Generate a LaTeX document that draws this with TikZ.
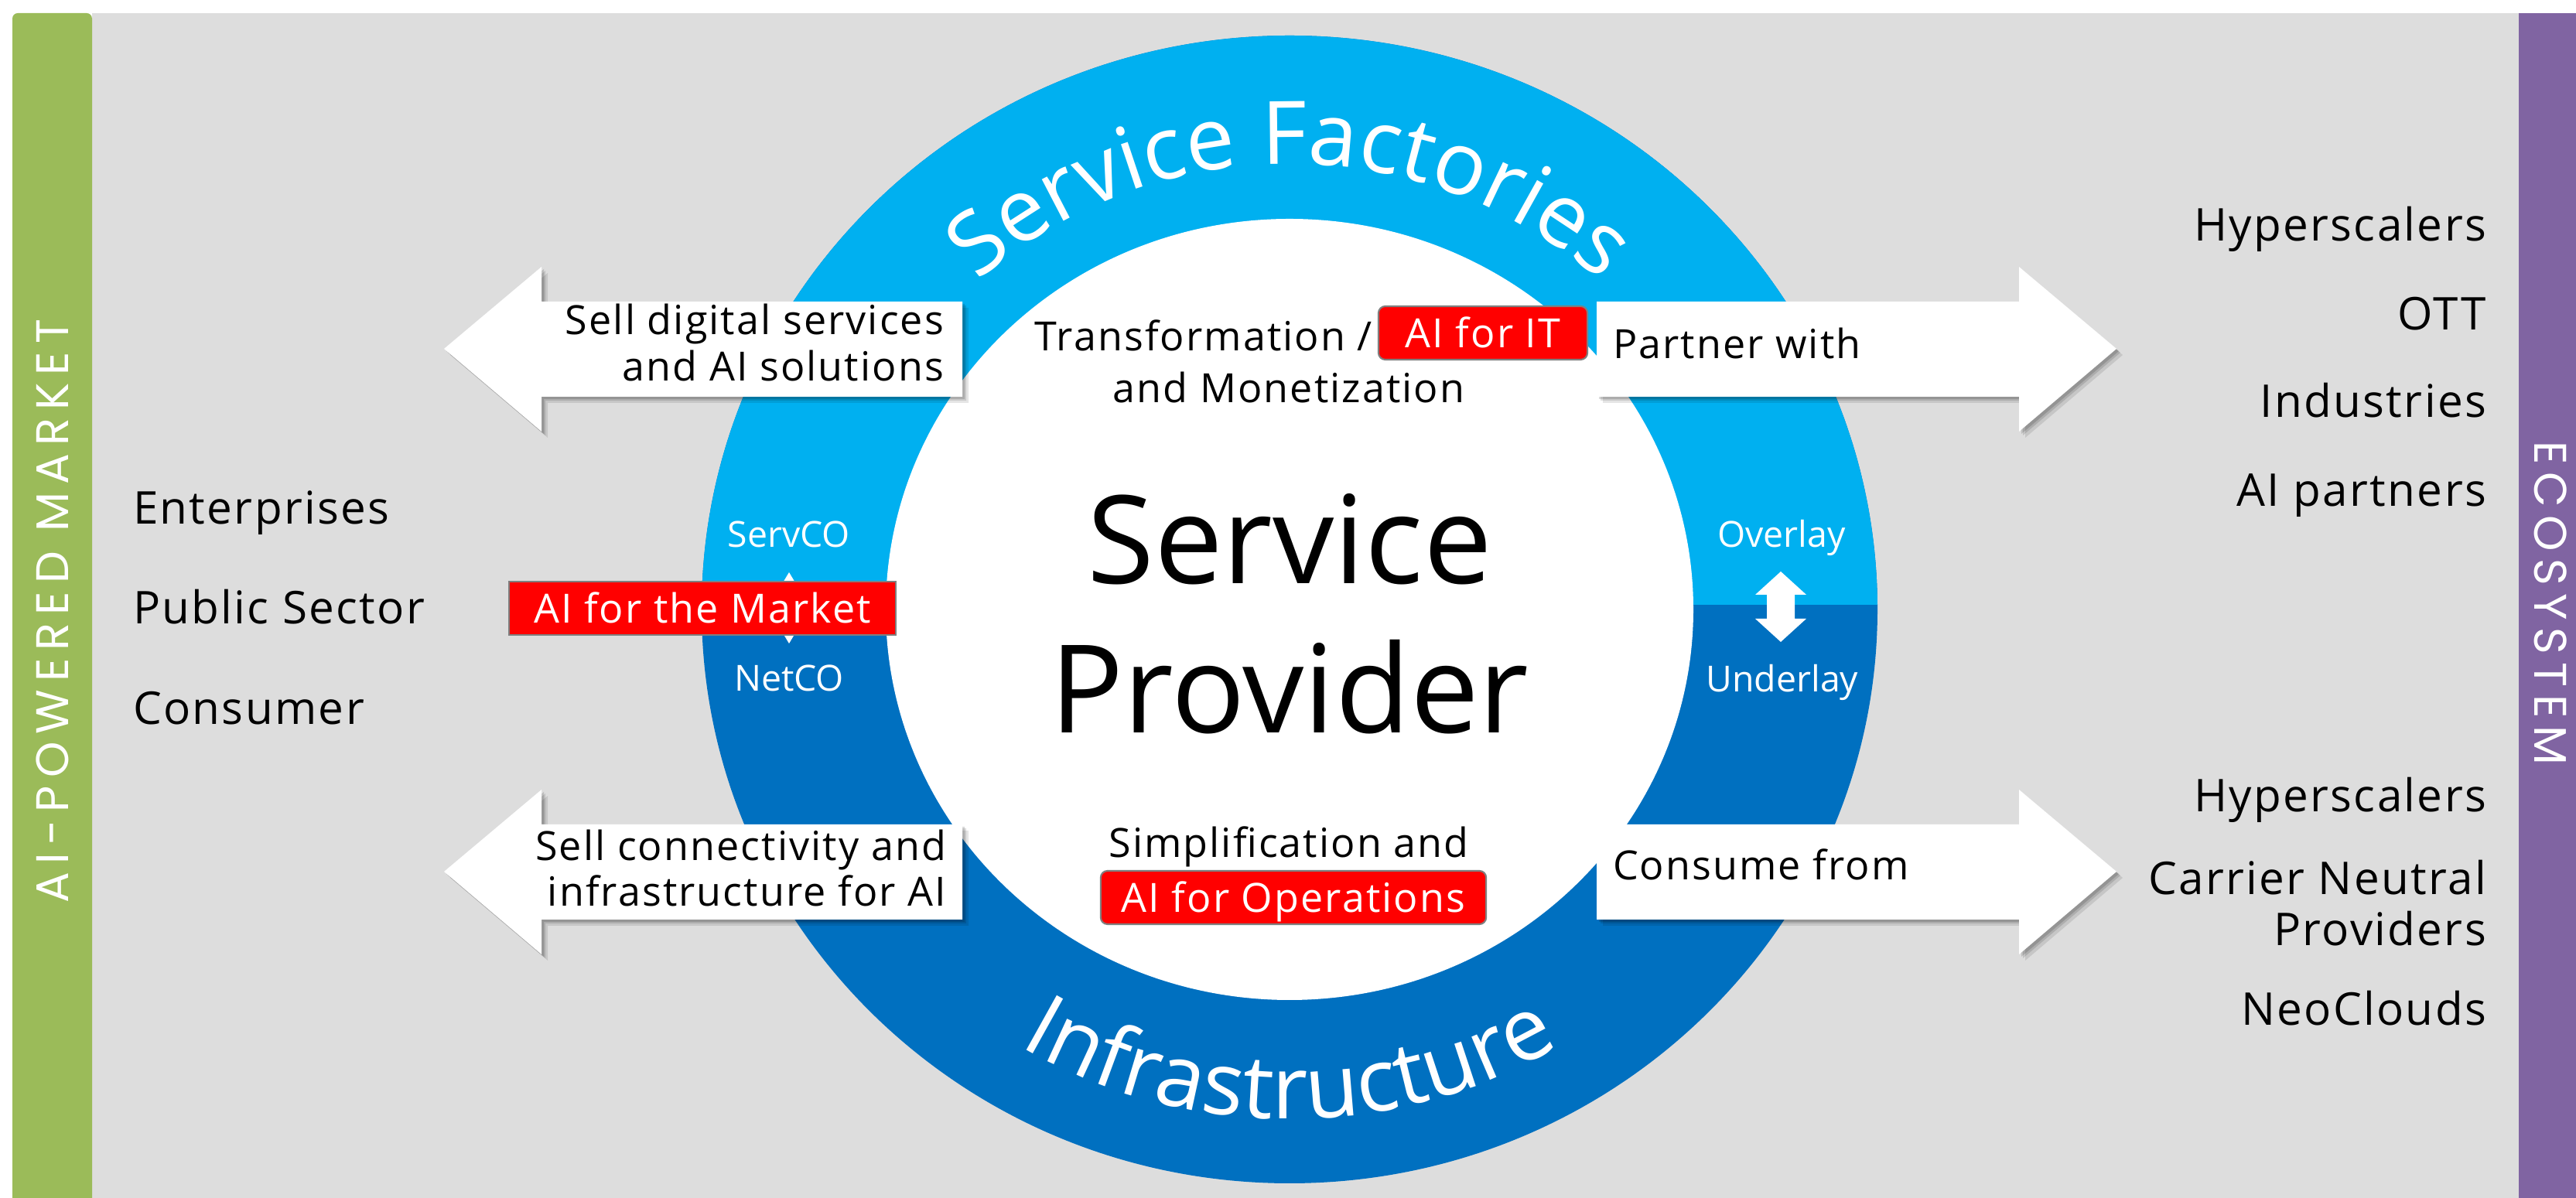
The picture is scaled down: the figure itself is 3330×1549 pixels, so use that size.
\documentclass[tikz,border=0pt]{standalone}
\usepackage{fontspec}
\setmainfont{Open Sans}
\newfontfamily\trkfont[LetterSpace=4]{Open Sans}
\newfontfamily\barfont[LetterSpace=17]{Poppins}
\usetikzlibrary{decorations.text}
\definecolor{bgc}{HTML}{DDDDDD}
\definecolor{greenbar}{HTML}{9BBB59}
\definecolor{purplebar}{HTML}{8064A2}
\definecolor{lightring}{HTML}{00B0F0}
\definecolor{darkring}{HTML}{0070C0}
\definecolor{redfill}{HTML}{FF0000}
\definecolor{boxline}{HTML}{7F7F7F}
\tikzset{
  every node/.style={inner sep=0pt, outer sep=0pt},
  body/.style={font=\fontsize{14.8}{17}\selectfont\trkfont, text=black},
  listtxt/.style={font=\fontsize{16.6}{19}\selectfont\trkfont, text=black},
  ringlbl/.style={font=\fontsize{13.2}{15}\selectfont, text=white},
  bigtxt/.style={font=\fontsize{45}{50}\selectfont, text=black},
  redlbl/.style={fill=redfill, draw=boxline, line width=0.6pt, text=white,
    font=\fontsize{14.8}{17}\selectfont\trkfont, minimum height=0.69cm,
    text height=0.39cm, text depth=0pt},
  bartxt/.style={font=\fontsize{16.8}{19}\selectfont\barfont, text=white},
  pics/blockleft/.style={code={
    \foreach \s/\o in {8/0.10,5/0.12,3/0.14}{
      \fill[black, opacity=\o, shift={(\s,-\s)}] (0,0) -- (126,106) -- (126,61) -- (670,61) -- (670,-62) -- (126,-62) -- (126,-107) -- cycle;}
    \fill[white] (0,0) -- (126,106) -- (126,61) -- (670,61) -- (670,-62) -- (126,-62) -- (126,-107) -- cycle;
  }},
  pics/blockright/.style={code={
    \foreach \s/\o in {8/0.10,5/0.12,3/0.14}{
      \fill[black, opacity=\o, shift={(\s,-\s)}] (0,0) -- (-126,106) -- (-126,61) -- (-672,61) -- (-672,-62) -- (-126,-62) -- (-126,-107) -- cycle;}
    \fill[white] (0,0) -- (-126,106) -- (-126,61) -- (-672,61) -- (-672,-62) -- (-126,-62) -- (-126,-107) -- cycle;
  }}
}
\begin{document}
\begin{tikzpicture}[x=0.01cm, y=0.01cm]
\useasboundingbox (0,0) rectangle (3330,1549);
% background
\fill[white] (0,0) rectangle (3330,1549);
\fill[bgc] (119,0) rectangle (3256,1532);
\fill[greenbar] (16,0) [rounded corners=2pt] -- (16,1532) -- (119,1532) [sharp corners] -- (119,0) -- cycle;
\fill[purplebar] (3256,0) rectangle (3330,1532);
% ring
\fill[darkring] (1667,761) ellipse[x radius=760, y radius=742];
\begin{scope}
  \clip (800,767) rectangle (2500,1549);
  \fill[lightring] (1667,761) ellipse[x radius=760, y radius=742];
\end{scope}
\fill[white] (1667,761) ellipse[x radius=522, y radius=505];
% ring texts
\path[decorate, decoration={text along path, text={|\fontsize{32.2}{36}\selectfont|Service Factories}, text align=center, text color=white}]
  (1073,761) arc[start angle=180, end angle=0, x radius=594, y radius=576];
\path[decorate, decoration={text along path, text={|\fontsize{32.2}{36}\selectfont|Infrastructure}, text align=center, text color=white}]
  (990,761) arc[start angle=180, end angle=360, x radius=677, y radius=659];
% block arrows
\pic at (574,1098) {blockleft};
\pic at (574,422) {blockleft};
\pic at (2736,1098) {blockright};
\pic at (2736,422) {blockright};
% small double arrows
\fill[white] (1020,809) -- (1032,789) -- (1024,789) -- (1024,737) -- (1032,737) -- (1020,717) -- (1008,737) -- (1016,737) -- (1016,789) -- (1008,789) -- cycle;
\fill[white] (2302,810) -- (2335,780) -- (2320,780) -- (2320,749) -- (2335,749) -- (2302,719) -- (2269,749) -- (2284,749) -- (2284,780) -- (2269,780) -- cycle;
% arrow texts
\node[body, anchor=base east] (sd1) at (1220,1116) {Sell digital services};
\node[body, anchor=base east] (sd2) at (1220,1056) {and AI solutions};
\node[body, anchor=base east] (sc1) at (1223,436) {Sell connectivity and};
\node[body, anchor=base east] (sc2) at (1223,377) {infrastructure for AI};
\node[body, anchor=base west] (pw) at (2085,1085) {Partner with};
\node[body, anchor=base west] (cf) at (2085,411) {Consume from};
% centre texts
\node[redlbl, minimum width=2.70cm, rounded corners=2.5pt] (aiit) at (1917,1118.5) {AI for IT};
\node[body, anchor=base east] (tr) at (1774,1095) {Transformation /};
\node[body, anchor=base] (mon) at (1666,1028) {and Monetization};
\node[body, anchor=base] (simp) at (1666,440) {Simplification and};
\node[redlbl, minimum width=4.98cm, rounded corners=2.5pt] (aiops) at (1672,388.5) {AI for Operations};
\node[redlbl, minimum width=5.00cm] (aimkt) at (908,762.5) {AI for the Market};
\node[ringlbl, anchor=base] (servco) at (1020,841) {ServCO};
\node[ringlbl, anchor=base] (netco) at (1020,655) {NetCO};
\node[ringlbl, anchor=base] (over) at (2303,841) {Overlay};
\node[ringlbl, anchor=base] (under) at (2304,654) {Underlay};
\node[bigtxt, anchor=base] (sp1) at (1667,794) {Service};
\node[bigtxt, anchor=base] (sp2) at (1667,601) {Provider};
% lists
\node[listtxt, anchor=base west] (ent) at (172,871) {Enterprises};
\node[listtxt, anchor=base west] (pub) at (172,742) {Public Sector};
\node[listtxt, anchor=base west] (con) at (172,612) {Consumer};
\node[listtxt, anchor=base east] (h1) at (3214,1237) {Hyperscalers};
\node[listtxt, anchor=base east] (ott) at (3214,1122) {OTT};
\node[listtxt, anchor=base east] (ind) at (3214,1009) {Industries};
\node[listtxt, anchor=base east] (aip) at (3214,894) {AI partners};
\node[listtxt, anchor=base east] (h2) at (3214,499) {Hyperscalers};
\node[listtxt, anchor=base east] (cn) at (3214,392) {Carrier Neutral};
\node[listtxt, anchor=base east] (prov) at (3214,326) {Providers};
\node[listtxt, anchor=base east] (neo) at (3214,223) {NeoClouds};
% side bars
\node[bartxt, rotate=90] (mkt) at (68,759) {AI-POWERED MARKET};
\node[bartxt, rotate=-90] (eco) at (3297,769) {ECOSYSTEM};
\end{tikzpicture}
\end{document}
